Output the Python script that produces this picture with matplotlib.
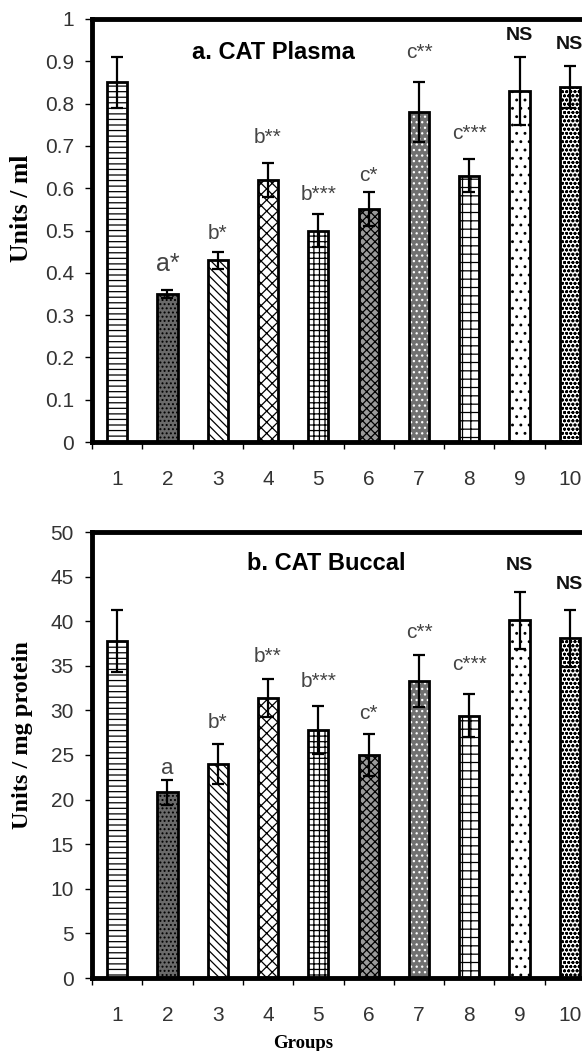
import numpy as np
import matplotlib
matplotlib.use('Agg')
import matplotlib.pyplot as plt

plt.rcParams['font.family'] = ['Liberation Sans', 'DejaVu Sans']
plt.rcParams['hatch.linewidth'] = 0.9

groups = ['1', '2', '3', '4', '5', '6', '7', '8', '9', '10']

plasma = [0.85, 0.35, 0.43, 0.62, 0.50, 0.55, 0.78, 0.63, 0.83, 0.84]
plasma_err = [0.06, 0.01, 0.02, 0.04, 0.04, 0.04, 0.07, 0.04, 0.08, 0.05]
plasma_sig = ['', 'a*', 'b*', 'b**', 'b***', 'c*', 'c**', 'c***', 'NS', 'NS']
plasma_sig_y = [0, 0.42, 0.494, 0.721, 0.584, 0.631, 0.92, 0.73, 0.962, 0.94]

buccal = [37.8, 20.8, 24.0, 31.4, 27.8, 25.0, 33.3, 29.4, 40.1, 38.1]
buccal_err = [3.5, 1.4, 2.2, 2.1, 2.7, 2.4, 2.9, 2.4, 3.2, 3.2]
buccal_sig = ['', 'a', 'b*', 'b**', 'b***', 'c*', 'c**', 'c***', 'NS', 'NS']
buccal_sig_y = [0, 23.5, 28.6, 36.0, 33.2, 29.7, 38.7, 35.1, 46.3, 44.1]

# fill colour, hatch, hatch colour for each group
styles = [
    ('white', '---', 'black'),
    ('#6a6a6a', '....', 'black'),
    ('white', '\\\\\\\\', 'black'),
    ('white', 'xxx', 'black'),
    ('white', '+++', 'black'),
    ('#9a9a9a', 'xxxx', 'black'),
    ('#707070', '...', 'white'),
    ('white', '++', 'black'),
    ('white', '..', 'black'),
    ('white', 'oooo', 'black'),
]

W, H = 582, 1051
fig = plt.figure(figsize=(W / 100, H / 100), dpi=100)
ax1 = fig.add_axes([92 / W, 1 - 442 / H, 503 / W, 423 / H])
ax2 = fig.add_axes([92 / W, 1 - 978 / H, 503 / W, 446 / H])

x = np.arange(1, len(groups) + 1)


def draw(ax, vals, errs, sig, sig_y, ymax, ystep, ylabels, ylabel, ylsize, title, tx, ty, small_a):
    for i in range(len(vals)):
        fc, h, hc = styles[i]
        ax.bar(x[i], vals[i], 0.4, facecolor=fc, hatch=h, edgecolor=hc, linewidth=0, zorder=2)
        ax.bar(x[i], vals[i], 0.4, fill=False, edgecolor='black', linewidth=2, zorder=3)
    ax.errorbar(x, vals, yerr=errs, fmt='none', ecolor='black', elinewidth=1.6,
                capsize=4.5, capthick=1.6, zorder=4)
    for i, s in enumerate(sig):
        if not s:
            continue
        if s == 'NS':
            ax.text(x[i], sig_y[i], s, ha='center', va='center', fontsize=14,
                    fontweight='bold', color='#111111')
        else:
            fs = small_a if s.startswith('a') else 15
            ax.text(x[i], sig_y[i], s, ha='center', va='center', fontsize=fs, color='#444444')
    ax.text(tx, ty, title, ha='center', va='center', fontsize=17, fontweight='bold')

    ax.set_xlim(0.5, 10.5)
    ax.set_ylim(0, ymax)
    ax.set_yticks(np.arange(0, ymax + ystep / 2, ystep))
    ax.set_yticklabels(ylabels)
    ax.set_xticks(x)
    ax.set_xticklabels(groups)
    ax.set_xticks(np.arange(0.5, 11, 1), minor=True)
    ax.tick_params(axis='x', which='major', length=0, pad=20, labelsize=15, labelcolor='#333333')
    ax.tick_params(axis='x', which='minor', length=5, width=1, direction='out')
    ax.tick_params(axis='y', length=5, width=1, pad=8, labelsize=15, labelcolor='#333333')
    for side in ['left', 'bottom', 'top']:
        ax.spines[side].set_linewidth(3.5)
    ax.spines['right'].set_visible(False)
    ax.set_ylabel(ylabel, family='Liberation Serif', fontweight='bold', fontsize=ylsize)


draw(ax1, plasma, plasma_err, plasma_sig, plasma_sig_y, 1.0, 0.1,
     ['0', '0.1', '0.2', '0.3', '0.4', '0.5', '0.6', '0.7', '0.8', '0.9', '1'],
     'Units / ml', 18.5, 'a. CAT Plasma', 4.1, 0.92, 18)
draw(ax2, buccal, buccal_err, buccal_sig, buccal_sig_y, 50, 5,
     [str(v) for v in range(0, 51, 5)],
     'Units / mg protein', 17.5, 'b. CAT Buccal', 5.16, 46.5, 16)

ax1.yaxis.set_label_coords(33 / W, 1 - 208 / H, transform=fig.transFigure)
ax2.yaxis.set_label_coords(33 / W, 1 - 735 / H, transform=fig.transFigure)

fig.text(303 / W, 1 - 1043 / H, 'Groups', ha='center', va='center',
         family='Liberation Serif', fontweight='bold', fontsize=13.5)

fig.savefig('out.png', dpi=100)
